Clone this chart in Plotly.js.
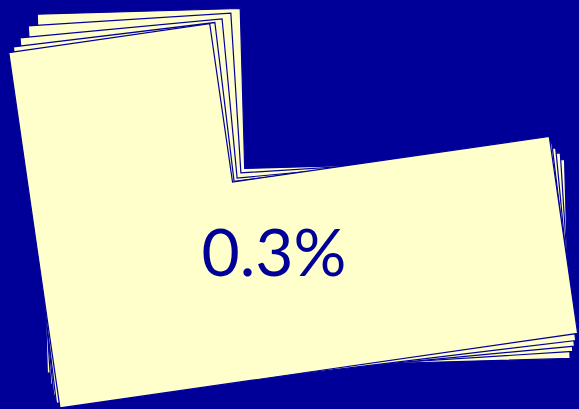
<!DOCTYPE html>
<html>
<head>
<meta charset="utf-8">
<script src="https://cdn.plot.ly/plotly-3.0.1.min.js"></script>
<style>
  html, body { margin: 0; padding: 0; background: #000099; }
  #chart { width: 579px; height: 409px; }
</style>
</head>
<body>
<div id="chart"></div>
<script>
// ---- data ----
const metricLabels = ["Share"];
const metricValues = [0.3];          // percent
const valueSuffix = "%";

// ---- decorative stacked-sheet styling (back to front) ----
const sheetAngles = [1.6, 3.6, 5.4, 6.9, 8.2];          // degrees
const sheetCentersX = [303.7, 300.5, 297.2, 294.5, 293.2];
const sheetCentersY = [186.3, 188.7, 192.0, 193.7, 193.0];
const SHEET_W = 523, SHEET_H = 359, TAB_W = 203, NOTCH_H = 160;

const BG = "#000099";
const PAPER = "#ffffcc";

function sheetPath(cx, cy, deg) {
  const hw = SHEET_W / 2, hh = SHEET_H / 2;
  const local = [
    [-hw, -hh], [-hw + TAB_W, -hh], [-hw + TAB_W, -hh + NOTCH_H],
    [hw, -hh + NOTCH_H], [hw, hh], [-hw, hh], [-hw, -hh]
  ];
  const t = deg * Math.PI / 180, c = Math.cos(t), s = Math.sin(t);
  const xs = [], ys = [];
  local.forEach(([x, y]) => {
    xs.push(cx + x * c + y * s);
    ys.push(cy - x * s + y * c);
  });
  return { xs, ys };
}

const traces = sheetAngles.map((a, i) => {
  const p = sheetPath(sheetCentersX[i], sheetCentersY[i], a);
  return {
    type: "scatter", mode: "lines", x: p.xs, y: p.ys,
    fill: "toself", fillcolor: PAPER,
    line: { color: BG, width: 1.2 },
    hoverinfo: "skip", showlegend: false
  };
});

traces.push({
  type: "scatter", mode: "text",
  x: [274], y: [259],
  text: metricValues.map(v => v.toFixed(1) + valueSuffix),
  textposition: "middle center",
  textfont: { family: "Lato, 'Noto Sans', sans-serif", size: 66, color: BG },
  hoverinfo: "skip", showlegend: false, name: metricLabels[0]
});

const layout = {
  width: 579, height: 409,
  margin: { l: 0, r: 0, t: 0, b: 0, pad: 0 },
  paper_bgcolor: BG, plot_bgcolor: BG,
  xaxis: { range: [0, 579], visible: false, fixedrange: true },
  yaxis: { range: [409, 0], visible: false, fixedrange: true },
  showlegend: false
};

Plotly.newPlot("chart", traces, layout, { displayModeBar: false, staticPlot: true });
</script>
</body>
</html>
